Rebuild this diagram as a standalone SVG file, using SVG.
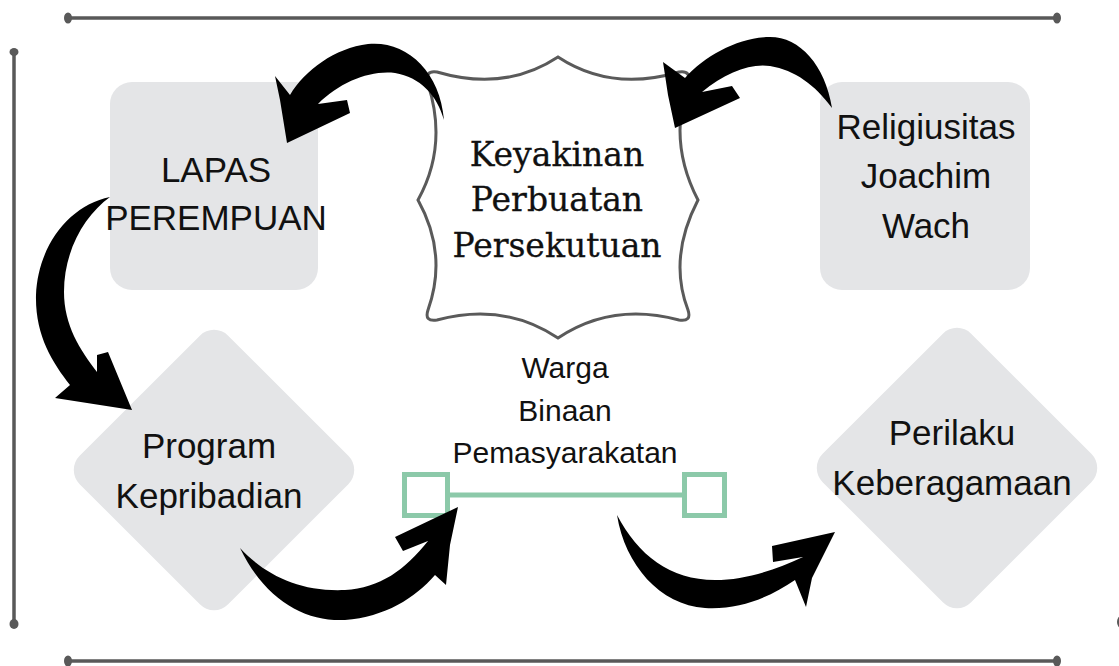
<svg xmlns="http://www.w3.org/2000/svg" width="1119" height="666" viewBox="0 0 1119 666">
<style>
.frame{stroke:#595959;stroke-width:3.5;fill:none;stroke-linecap:round}
.dot{fill:#595959}
.box{fill:#e4e5e7}
.lbl{font-family:"Liberation Sans",Arial,sans-serif;font-size:35px;fill:#111;text-anchor:middle}
.small{font-size:30px}
.serif{font-family:"DejaVu Serif","Liberation Serif",serif;font-size:33px;fill:#111;stroke:#111;stroke-width:0.3;text-anchor:middle}
.arrow{fill:#000}
.green{fill:none;stroke:#8cc9a9;stroke-width:5}
</style>
<rect width="1119" height="666" fill="#ffffff"/>
<g id="border">
<line class="frame" x1="68" y1="18" x2="1057" y2="18"/>
<ellipse class="dot" cx="68" cy="18" rx="4" ry="5.5"/>
<ellipse class="dot" cx="1057" cy="18" rx="4" ry="5.5"/>
<line class="frame" x1="68" y1="661" x2="1057" y2="661"/>
<ellipse class="dot" cx="68" cy="661" rx="4" ry="5.5"/>
<ellipse class="dot" cx="1057" cy="661" rx="4" ry="5.5"/>
<line class="frame" x1="14" y1="52" x2="14" y2="624"/>
<ellipse class="dot" cx="14" cy="52" rx="4.5" ry="4"/>
<ellipse class="dot" cx="14" cy="624" rx="4.5" ry="5"/>
<ellipse class="dot" cx="1121" cy="622" rx="4" ry="6"/>
</g>
<g id="lapas">
<rect class="box" x="110" y="82" width="208" height="208" rx="22"/>
<text class="lbl" x="216" y="182">LAPAS</text>
<text class="lbl" x="216" y="230">PEREMPUAN</text>
</g>
<g id="religiusitas">
<rect class="box" x="820" y="82" width="210" height="208" rx="22"/>
<text class="lbl" x="926" y="139">Religiusitas</text>
<text class="lbl" x="926" y="188">Joachim</text>
<text class="lbl" x="926" y="238">Wach</text>
</g>
<g id="keyakinan">
<path d="M437,72 Q505,92 558,57 Q611,92 679,72 Q692,70 688,84 Q668,142 698,200 Q668,258 688,310 Q692,322 679,320 Q612,302 558,338 Q504,302 437,320 Q424,322 428,310 Q448,254 418,200 Q448,146 428,84 Q424,70 437,72 Z" fill="#ffffff" stroke="#5a5a5a" stroke-width="3"/>
<text class="serif" x="557" y="166">Keyakinan</text>
<text class="serif" x="557" y="211">Perbuatan</text>
<text class="serif" x="557" y="257">Persekutuan</text>
</g>
<g id="program">
<rect class="box" x="109" y="365" width="210" height="210" rx="20" transform="rotate(45 214 470)"/>
<text class="lbl" x="209" y="458">Program</text>
<text class="lbl" x="209" y="508">Kepribadian</text>
</g>
<g id="perilaku">
<rect class="box" x="852" y="363" width="210" height="210" rx="20" transform="rotate(45 957 468)"/>
<text class="lbl" x="952" y="445">Perilaku</text>
<text class="lbl" x="952" y="495">Keberagamaan</text>
</g>
<g id="warga">
<text class="lbl small" x="565" y="378">Warga</text>
<text class="lbl small" x="565" y="421">Binaan</text>
<text class="lbl small" x="565" y="463">Pemasyarakatan</text>
</g>
<g id="connectors">
<rect class="green" x="404.5" y="474.5" width="43" height="41"/>
<rect class="green" x="684.5" y="474.5" width="40" height="41"/>
<line x1="447" y1="495" x2="684" y2="495" stroke="#8cc9a9" stroke-width="5"/>
<path class="arrow" d="M444,120 C440,70 405,40 368,44 C335,48 305,70 290,95 L275,76 L280,100 L287,143 L350,113 L347,100 L318,104 C340,82 370,70 395,73 C420,77 437,95 444,120 Z"/>
<path class="arrow" d="M832,108 C825,65 800,37 770,37 C740,37 705,55 685,78 L663,62 L668,95 L675,128 L740,98 L732,86 L702,92 C725,73 750,63 770,66 C795,70 815,85 832,108 Z"/>
<path class="arrow" d="M110,197 C70,205 38,245 36,295 C35,335 52,362 70,385 L55,398 L132,410 L108,352 L97,355 L97,372 C80,350 64,325 64,292 C64,250 85,215 110,197 Z"/>
<path class="arrow" d="M240,548 C265,600 305,622 345,620 C385,617 415,598 435,575 L446,585 L450,545 L458,507 L395,537 L403,551 L428,541 C405,570 380,588 345,590 C300,592 265,575 240,548 Z"/>
<path class="arrow" d="M617,515 C625,565 660,605 705,608 C740,610 770,597 795,580 L806,607 L812,578 L835,532 L772,546 L773,562 L803,557 C775,570 745,580 715,580 C670,580 638,555 617,515 Z"/>
</g>
</svg>
